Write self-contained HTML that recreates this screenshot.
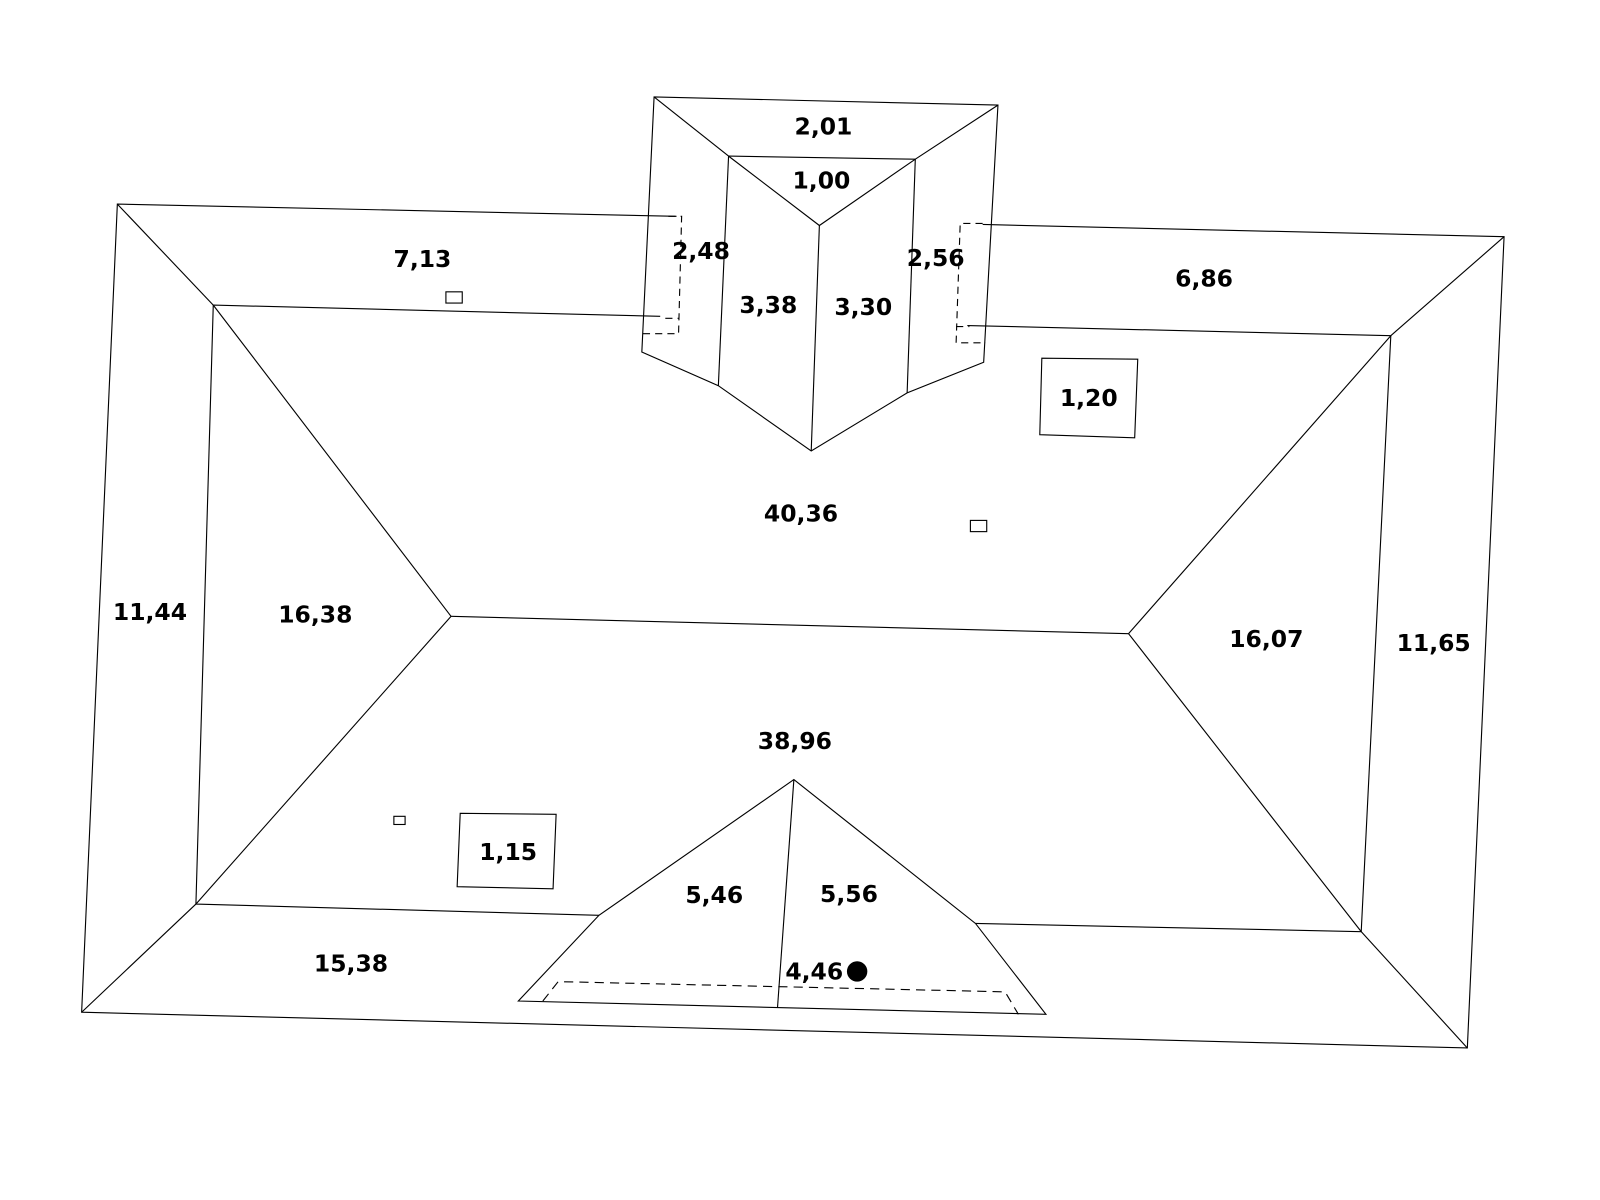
<!DOCTYPE html>
<html><head><style>body{margin:0;background:#fff}svg{display:block}text{font-family:"DejaVu Sans",sans-serif;font-weight:bold;font-size:23px;text-anchor:middle;dominant-baseline:central;fill:#000}</style></head>
<body>
<svg width="1600" height="1200" viewBox="0 0 1600 1200" xmlns="http://www.w3.org/2000/svg">
<g transform="scale(1.0204)" stroke="#000" stroke-width="1.1" fill="none">
<polyline points="663,212 115,200 80,992 1438,1027 1474,232 963,220"/>
<polyline points="647,310 209,299 192,886 587,897"/>
<polyline points="956,905 1334,913 1363,329 948,319"/>
<line x1="115" y1="200" x2="209" y2="299"/>
<line x1="1474" y1="232" x2="1363" y2="329"/>
<line x1="1438" y1="1027" x2="1334" y2="913"/>
<line x1="80" y1="992" x2="192" y2="886"/>
<line x1="442" y1="604" x2="1106" y2="621"/>
<line x1="209" y1="299" x2="442" y2="604"/>
<line x1="192" y1="886" x2="442" y2="604"/>
<line x1="1363" y1="329" x2="1106" y2="621"/>
<line x1="1334" y1="913" x2="1106" y2="621"/>
<polygon points="641,95 978,103 964,355 889,385 795,442 704,378 629,345"/>
<polyline points="714,153 897,156"/>
<polyline points="714,153 803,221 897,156"/>
<line x1="714" y1="153" x2="704" y2="378"/>
<line x1="803" y1="221" x2="795" y2="442"/>
<line x1="897" y1="156" x2="889" y2="385"/>
<line x1="641" y1="95" x2="714" y2="153"/>
<line x1="978" y1="103" x2="897" y2="156"/>
<g stroke-dasharray="7,5">
<polyline points="655,212 668,212 665,327 630,327"/>
<line x1="652" y1="312" x2="665" y2="312"/>
<polyline points="963,219 941,219 937,336 966,336"/>
<line x1="937" y1="320" x2="950" y2="320"/>
</g>
<polygon points="778,764 956,905 1025,994 508,981 587,897" fill="#fff"/>
<line x1="778" y1="764" x2="762" y2="987"/>
<polyline points="532,981 547,962 985,972 998,994" stroke-dasharray="9,6"/>
<rect x="437" y="286" width="16" height="11"/>
<rect x="951" y="510" width="16" height="11"/>
<rect x="386" y="800" width="11" height="8"/>
<polygon points="1021,351 1115,352 1112,429 1019,426"/>
<polygon points="451,797 545,798 542,871 448,869"/>
<circle cx="840" cy="952" r="10" fill="#000" stroke="none"/>
</g>
<g transform="scale(1.0204)">
<text x="807" y="124">2,01</text>
<text x="805" y="177">1,00</text>
<text x="414" y="254">7,13</text>
<text x="687" y="246">2,48</text>
<text x="753" y="299">3,38</text>
<text x="846" y="301">3,30</text>
<text x="917" y="253">2,56</text>
<text x="1180" y="273">6,86</text>
<text x="1067" y="390">1,20</text>
<text x="785" y="503">40,36</text>
<text x="147" y="600">11,44</text>
<text x="309" y="602">16,38</text>
<text x="1241" y="626">16,07</text>
<text x="1405" y="630">11,65</text>
<text x="779" y="726">38,96</text>
<text x="498" y="835">1,15</text>
<text x="700" y="877">5,46</text>
<text x="832" y="876">5,56</text>
<text x="344" y="944">15,38</text>
<text x="798" y="952">4,46</text>
</g>
</svg>
</body></html>
